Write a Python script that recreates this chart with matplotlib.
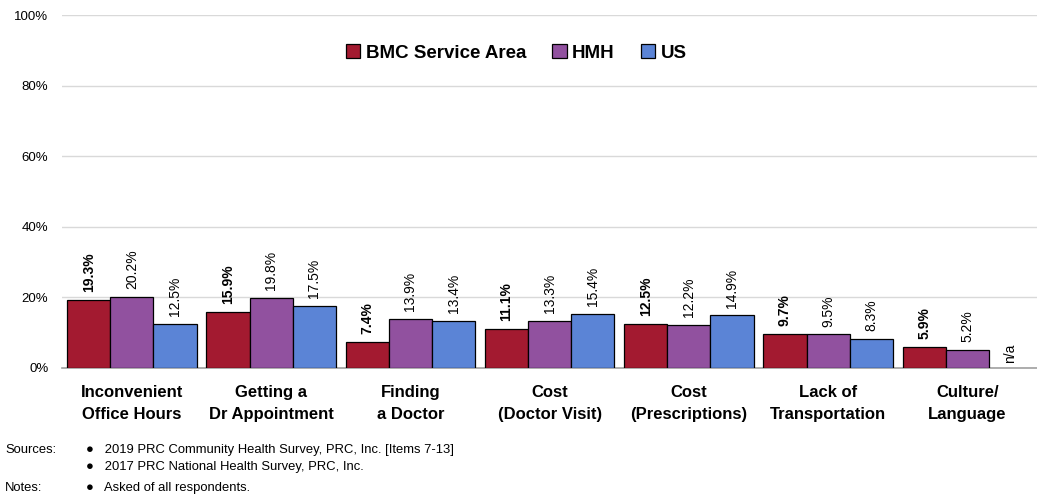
import numpy as np
import matplotlib
matplotlib.use('Agg')
import matplotlib.pyplot as plt

plt.rcParams['font.family'] = ['Liberation Sans', 'DejaVu Sans']

# data
categories = ['Inconvenient\nOffice Hours', 'Getting a\nDr Appointment', 'Finding\na Doctor',
              'Cost\n(Doctor Visit)', 'Cost\n(Prescriptions)', 'Lack of\nTransportation',
              'Culture/\nLanguage']
series_names = ['BMC Service Area', 'HMH', 'US']
bmc = [19.3, 15.9, 7.4, 11.1, 12.5, 9.7, 5.9]
hmh = [20.2, 19.8, 13.9, 13.3, 12.2, 9.5, 5.2]
us = [12.5, 17.5, 13.4, 15.4, 14.9, 8.3, None]
colors = ['#A31A30', '#91519F', '#5B84D6']
y_ticks = [0, 20, 40, 60, 80, 100]

fig = plt.figure(figsize=(10.37, 5), dpi=100)
ax = fig.add_axes([0.06, 0.264, 0.94, 0.706])

x = np.arange(len(categories))
w = 0.31
for i, (vals, col, name) in enumerate(zip([bmc, hmh, us], colors, series_names)):
    pos = x + (i - 1) * w
    hv = [v if v is not None else 0 for v in vals]
    mask = [v is not None for v in vals]
    ax.bar(pos[mask], np.array(hv)[mask], width=w, color=col, edgecolor='black',
           linewidth=0.9, label=name, zorder=3)
    for p, v in zip(pos, vals):
        if v is None:
            ax.text(p, 1.5, 'n/a', rotation=90, ha='center', va='bottom', fontsize=10)
        else:
            ax.text(p, v + 2.2, f'{v:.1f}%', rotation=90, ha='center', va='bottom',
                    fontsize=10, fontweight='bold' if i == 0 else 'normal')

ax.set_xlim(-0.5, len(categories) - 0.5)
ax.set_ylim(0, 100)
ax.set_yticks(y_ticks)
ax.set_yticklabels([f'{t}%' for t in y_ticks], fontsize=9.5)
ax.set_xticks(x)
ax.set_xticklabels(categories, fontsize=12, fontweight='bold', linespacing=1.6)
ax.tick_params(axis='both', length=0)
ax.tick_params(axis='x', pad=12)
ax.tick_params(axis='y', pad=10)
ax.grid(axis='y', color='#D9D9D9', linewidth=1, zorder=0)
for s in ['top', 'right', 'left']:
    ax.spines[s].set_visible(False)
ax.spines['bottom'].set_color('#A0A0A0')
ax.spines['bottom'].set_linewidth(1.2)

leg = ax.legend(loc='upper center', bbox_to_anchor=(0.466, 0.965), ncol=3, frameon=False,
                prop={'weight': 'bold', 'size': 13.5}, handlelength=0.75, handleheight=0.75,
                handletextpad=0.3, columnspacing=1.4)

# footnotes
fs = 9.4
fig.text(0.005, 0.10, 'Sources:', fontsize=fs, va='center')
fig.text(0.083, 0.10, '\u25cf   2019 PRC Community Health Survey, PRC, Inc. [Items 7-13]', fontsize=fs, va='center')
fig.text(0.083, 0.066, '\u25cf   2017 PRC National Health Survey, PRC, Inc.', fontsize=fs, va='center')
fig.text(0.005, 0.024, 'Notes:', fontsize=fs, va='center')
fig.text(0.083, 0.024, '\u25cf   Asked of all respondents.', fontsize=fs, va='center')

fig.savefig('out.png', dpi=100)
